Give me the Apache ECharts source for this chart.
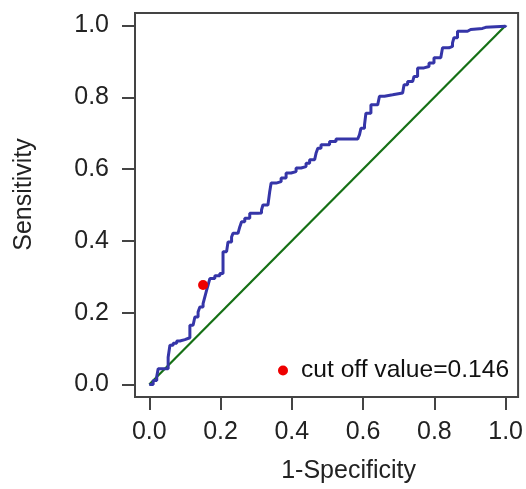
<!DOCTYPE html>
<html>
<head>
<meta charset="utf-8">
<script src="https://cdn.jsdelivr.net/npm/echarts@6/dist/echarts.min.js"></script>
<style>
    html, body { margin: 0; padding: 0; background: #fff; }
    #chart { width: 526px; height: 489px; }
</style>
</head>
<body>
<div id="chart"></div>
<script>
    // ROC curve, staircase corners (1-specificity, sensitivity)
    const fpr = [0.000, 0.011, 0.021, 0.025, 0.047, 0.053, 0.058, 0.067, 0.077, 0.086,
                 0.100, 0.114, 0.114, 0.123, 0.128, 0.137, 0.142, 0.151, 0.156, 0.161,
                 0.165, 0.170, 0.184, 0.198, 0.207, 0.207, 0.217, 0.221, 0.231, 0.235,
                 0.249, 0.254, 0.259, 0.268, 0.282, 0.305, 0.315, 0.319, 0.333, 0.338,
                 0.342, 0.356, 0.370, 0.384, 0.398, 0.412, 0.426, 0.440, 0.450, 0.464,
                 0.468, 0.473, 0.482, 0.506, 0.524, 0.585, 0.590, 0.594, 0.604, 0.608,
                 0.622, 0.641, 0.646, 0.660, 0.683, 0.711, 0.715, 0.725, 0.739, 0.743,
                 0.753, 0.771, 0.785, 0.799, 0.818, 0.823, 0.841, 0.851, 0.855, 0.865,
                 0.893, 0.902, 0.935, 0.944, 1.000];
    const tpr = [0.000, 0.011, 0.022, 0.044, 0.044, 0.076, 0.109, 0.115, 0.121, 0.125,
                 0.130, 0.137, 0.165, 0.170, 0.188, 0.202, 0.216, 0.225, 0.244, 0.263,
                 0.277, 0.295, 0.303, 0.309, 0.318, 0.370, 0.374, 0.397, 0.411, 0.421,
                 0.425, 0.439, 0.453, 0.463, 0.477, 0.478, 0.486, 0.500, 0.505, 0.537,
                 0.561, 0.565, 0.575, 0.589, 0.593, 0.603, 0.607, 0.616, 0.626, 0.630,
                 0.644, 0.658, 0.668, 0.677, 0.684, 0.684, 0.696, 0.714, 0.723, 0.756,
                 0.779, 0.782, 0.803, 0.807, 0.812, 0.814, 0.835, 0.844, 0.849, 0.858,
                 0.882, 0.886, 0.896, 0.910, 0.911, 0.938, 0.942, 0.952, 0.966, 0.984,
                 0.989, 0.992, 0.995, 0.998, 1.000];
    const refX = [0, 1];
    const refY = [0, 1];
    const cutX = [0.151];
    const cutY = [0.277];
    const ticks = [0, 0.2, 0.4, 0.6, 0.8, 1.0];
    const cutName = 'cut off value=0.146';

    const font = 'Liberation Sans, Arial, sans-serif';
    const chart = echarts.init(document.getElementById('chart'));

    const axisCommon = {
        type: 'value',
        splitLine: { show: false },
        axisLine: { show: true, onZero: false, lineStyle: { color: '#444', width: 2 } },
        axisTick: { show: true, customValues: ticks, length: 13, lineStyle: { color: '#444', width: 2 } },
        nameLocation: 'middle',
        nameTextStyle: { fontFamily: font, fontSize: 25, color: '#222' }
    };

    let option = {
        animation: false,
        backgroundColor: '#fff',
        grid: {
            left: 135, right: 7, top: 13, bottom: 92,
            show: true, borderColor: '#444', borderWidth: 2
        },
        legend: {
            left: 273, top: 353,
            selectedMode: false,
            itemWidth: 10, itemHeight: 10,
            data: [{ name: cutName, icon: 'circle' }],
            textStyle: { fontFamily: font, fontSize: 24.6, color: '#111', padding: [0, 0, 0, 8] }
        },
        xAxis: Object.assign({}, axisCommon, {
            min: -0.04, max: 1.035,
            name: '1-Specificity',
            nameGap: 62,
            nameTextStyle: Object.assign({}, axisCommon.nameTextStyle, { padding: [0, 0, 0, 44] }),
            axisLabel: {
                customValues: ticks, margin: 23,
                fontFamily: font, fontSize: 25, color: '#222',
                formatter: v => v.toFixed(1)
            }
        }),
        yAxis: Object.assign({}, axisCommon, {
            min: -0.035, max: 1.035,
            name: 'Sensitivity',
            nameGap: 98,
            nameTextStyle: Object.assign({}, axisCommon.nameTextStyle, { padding: [0, 0, 0, 21] }),
            axisLabel: {
                customValues: ticks, margin: 26,
                fontFamily: font, fontSize: 25, color: '#222',
                formatter: v => v.toFixed(1)
            }
        }),
        series: [
            {
                type: 'line',
                data: refX.map((x, i) => [x, refY[i]]),
                showSymbol: false,
                lineStyle: { color: '#157015', width: 2.2 },
                z: 2
            },
            {
                type: 'line',
                data: fpr.map((x, i) => [x, tpr[i]]),
                step: 'end',
                showSymbol: false,
                lineStyle: { color: '#3535a8', width: 3 },
                z: 3
            },
            {
                name: cutName,
                type: 'scatter',
                data: cutX.map((x, i) => [x, cutY[i]]),
                symbolSize: 10,
                itemStyle: { color: '#ee0000', opacity: 1 },
                z: 4
            }
        ]
    };
    chart.setOption(option);
</script>
</body>
</html>
